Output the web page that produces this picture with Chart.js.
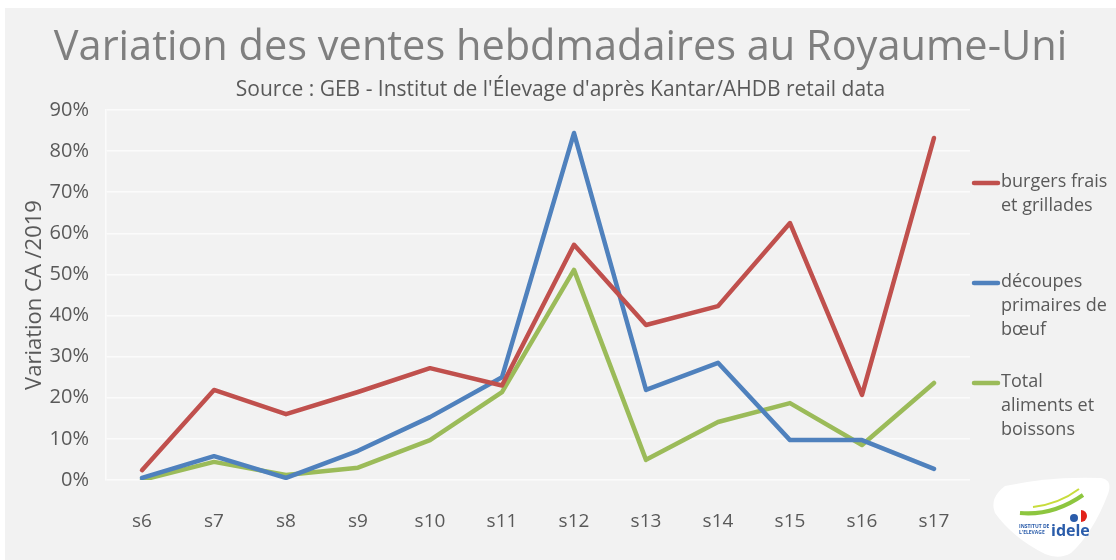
<!DOCTYPE html>
<html>
<head>
<meta charset="utf-8">
<script src="https://cdn.jsdelivr.net/npm/chart.js@4.4.1/dist/chart.umd.min.js"></script>
<style>
  html, body { margin: 0; padding: 0; background: #fff; }
  #wrap { position: absolute; left: 5px; top: 8px; width: 1111px; height: 552px; background: #f2f2f2; }
</style>
</head>
<body>
<div id="wrap"><canvas id="chart" width="1111" height="552"></canvas></div>
<script>
const weeks = ["s6","s7","s8","s9","s10","s11","s12","s13","s14","s15","s16","s17"];

// variation du CA par rapport a 2019, en %
const burgers  = [2.4, 21.9, 16.0, 21.4, 27.2, 23.0, 57.2, 37.7, 42.3, 62.5, 20.7, 83.2];
const decoupes = [0.5, 5.8, 0.5, 7.1, 15.3, 25.0, 84.4, 21.9, 28.5, 9.7, 9.7, 2.7];
const total    = [0.0, 4.4, 1.2, 3.0, 9.7, 21.4, 51.1, 4.9, 14.1, 18.7, 8.5, 23.6];

const legendLines = [
  ["burgers frais", "et grillades"],
  ["découpes", "primaires de", "bœuf"],
  ["Total", "aliments et", "boissons"],
];
const yTicks = [0, 10, 20, 30, 40, 50, 60, 70, 80, 90];

const FONT = "'Open Sans', 'DejaVu Sans', sans-serif";
const TEXT = "#595959";

// legende a droite, texte sur plusieurs lignes comme dans Excel
const sideLegend = {
  id: "sideLegend",
  afterDraw(chart){
    const ctx = chart.ctx;
    const x0 = chart.chartArea.right + 2;
    const tops = [174, 274, 374];
    ctx.save();
    chart.data.datasets.forEach((ds, i)=>{
      const y = tops[i];
      ctx.strokeStyle = ds.borderColor;
      ctx.lineWidth = 4.5;
      ctx.lineCap = "round";
      ctx.beginPath();
      ctx.moveTo(x0 + 2, y + 1);
      ctx.lineTo(x0 + 26, y + 1);
      ctx.stroke();
      ctx.fillStyle = TEXT;
      ctx.font = "18px " + FONT;
      ctx.textBaseline = "middle";
      ctx.textAlign = "left";
      legendLines[i].forEach((t, k)=> ctx.fillText(t, x0 + 29, y + k * 24));
    });
    ctx.restore();
  }
};

// petit logo idele en bas a droite
const logo = {
  id: "logo",
  afterDraw(chart){
    const ctx = chart.ctx;
    ctx.save();
    ctx.fillStyle = "#ffffff";
    ctx.beginPath();
    ctx.moveTo(1000, 478);
    ctx.quadraticCurveTo(1045, 468, 1096, 470);
    ctx.quadraticCurveTo(1108, 472, 1103, 486);
    ctx.quadraticCurveTo(1088, 525, 1066, 545);
    ctx.quadraticCurveTo(1054, 552, 1040, 546);
    ctx.quadraticCurveTo(1008, 530, 990, 505);
    ctx.quadraticCurveTo(984, 490, 1000, 478);
    ctx.fill();
    ctx.strokeStyle = "#8dc63f";
    ctx.lineWidth = 4;
    ctx.beginPath();
    ctx.moveTo(1015, 505);
    ctx.quadraticCurveTo(1048, 508, 1078, 487);
    ctx.stroke();
    ctx.strokeStyle = "#c8dc3c";
    ctx.lineWidth = 2;
    ctx.beginPath();
    ctx.moveTo(1028, 499);
    ctx.quadraticCurveTo(1054, 496, 1074, 481);
    ctx.stroke();
    ctx.fillStyle = "#e2231a";
    ctx.beginPath();
    ctx.arc(1076, 508, 6, -Math.PI / 2, Math.PI / 2);
    ctx.fill();
    ctx.fillStyle = "#2a5caa";
    ctx.beginPath();
    ctx.arc(1069, 510, 4, 0, Math.PI * 2);
    ctx.fill();
    ctx.font = "bold 16px " + FONT;
    ctx.textBaseline = "alphabetic";
    ctx.fillText("idele", 1046, 528);
    ctx.font = "bold 5px " + FONT;
    ctx.fillText("INSTITUT DE", 1014, 520);
    ctx.fillText("L'ELEVAGE", 1014, 526);
    ctx.restore();
  }
};

function line(label, data, color){
  return {
    label, data,
    borderColor: color, backgroundColor: color,
    borderWidth: 4.5, pointRadius: 0, tension: 0,
    borderJoinStyle: "round", borderCapStyle: "round",
  };
}

new Chart(document.getElementById("chart"), {
  type: "line",
  data: {
    labels: weeks,
    datasets: [
      line(legendLines[0].join(" "), burgers, "#c0504d"),
      line(legendLines[1].join(" "), decoupes, "#4f81bd"),
      line(legendLines[2].join(" "), total, "#9bbb59"),
    ]
  },
  options: {
    responsive: false,
    animation: false,
    events: [],
    layout: { padding: 0 },
    plugins: {
      legend: { display: false },
      tooltip: { enabled: false },
      title: {
        display: true,
        text: "Variation des ventes hebdmadaires au Royaume-Uni",
        color: "#7f7f7f",
        font: { family: FONT, size: 41.5, weight: "normal", lineHeight: 1.2 },
        padding: { top: 15, bottom: 0 },
      },
      subtitle: {
        display: true,
        text: "Source : GEB - Institut de l'Élevage d'après Kantar/AHDB retail data",
        color: TEXT,
        font: { family: FONT, size: 21, weight: "normal", lineHeight: 1.2 },
        padding: { top: 4.6, bottom: 7.4 },
      },
    },
    scales: {
      x: {
        offset: true,
        afterFit: s => { s.height = 80; },
        grid: { display: false, drawTicks: false },
        border: { display: false },
        ticks: { color: TEXT, font: { family: FONT, size: 19 }, padding: 30, maxRotation: 0 },
      },
      y: {
        min: 0, max: 90,
        afterBuildTicks: s => { s.ticks = yTicks.map(v => ({ value: v })); },
        afterFit: s => { s.width = 101; },
        grid: { color: "#fbfbfb", lineWidth: 1.5, drawTicks: false },
        border: { display: true, color: "#fbfbfb", width: 1.5 },
        ticks: { color: TEXT, font: { family: FONT, size: 20 }, padding: 17, callback: v => v + "%" },
        title: {
          display: true,
          text: "Variation CA /2019",
          color: TEXT,
          font: { family: FONT, size: 22 },
          padding: { top: 17, bottom: 0 },
        },
      },
      // espace reserve a droite pour la legende
      side: {
        position: "right",
        afterFit: s => { s.width = 146; },
        grid: { display: false, drawTicks: false },
        border: { display: false },
        ticks: { display: false },
      },
    },
  },
  plugins: [sideLegend, logo],
});
</script>
</body>
</html>
